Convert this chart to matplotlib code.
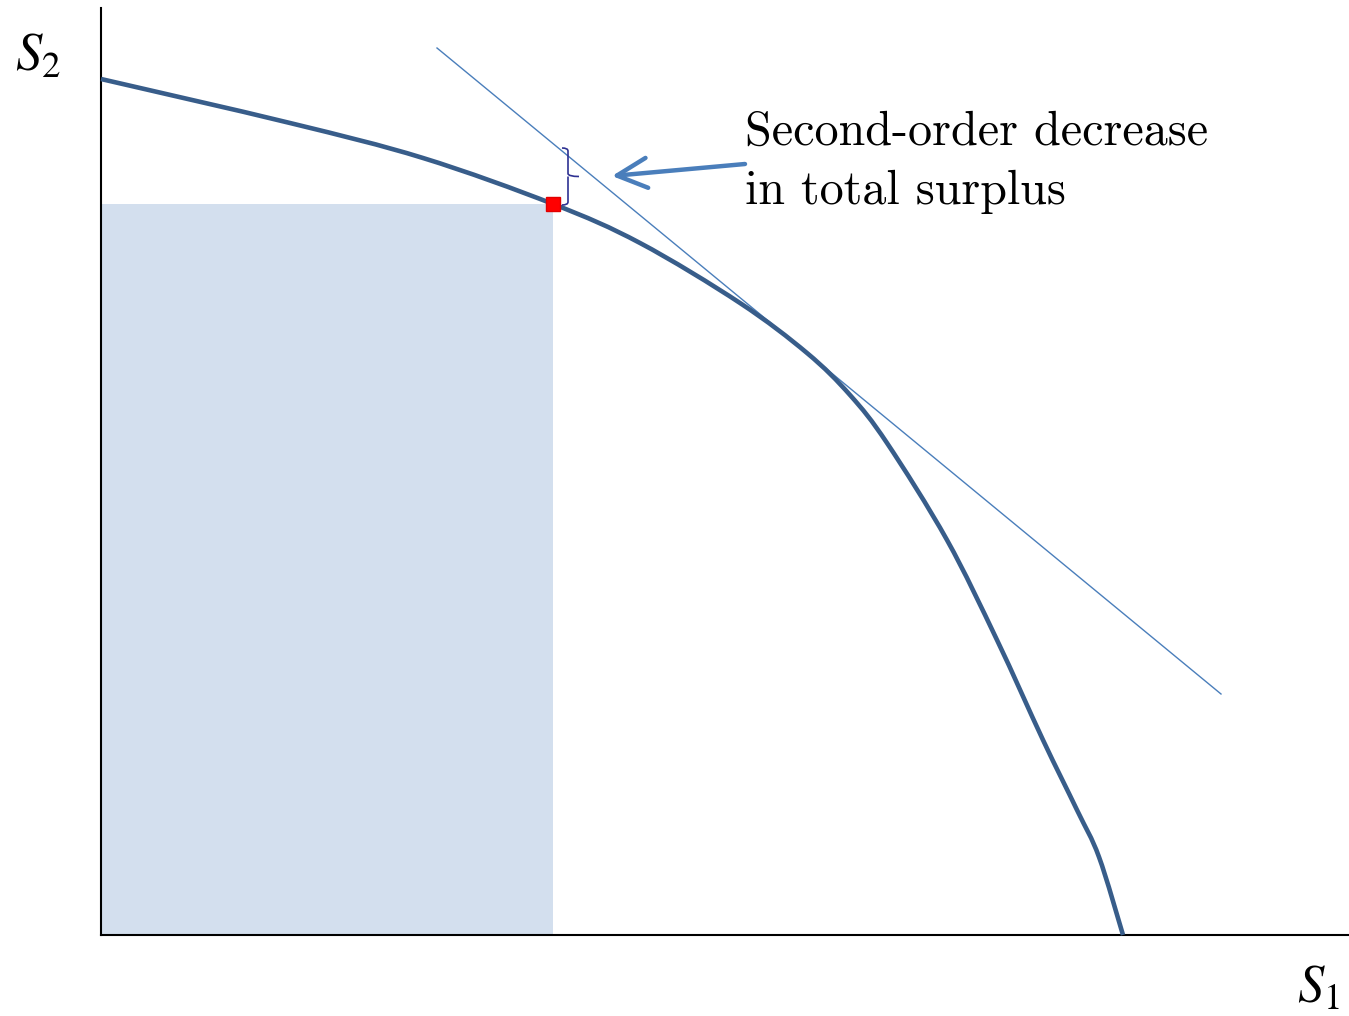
import matplotlib
matplotlib.use("Agg")
import matplotlib.pyplot as plt
from matplotlib.patches import Rectangle, FancyArrowPatch, PathPatch
from matplotlib.path import Path
import numpy as np

plt.rcParams["mathtext.fontset"] = "stix"

# Utility possibility frontier (S1, S2)
frontier_s1 = [0.00, 1.89, 3.22, 4.52, 5.39, 6.39, 7.06, 7.49, 7.86, 8.46, 8.96,
               9.42, 9.76, 9.98, 10.22]
frontier_s2 = [8.56, 8.12, 7.77, 7.31, 6.92, 6.32, 5.82, 5.40, 4.92, 3.95, 2.95,
               1.95, 1.25, 0.78, 0.00]

# Tangent line endpoints
tangent_s1 = [3.36, 11.20]
tangent_s2 = [8.87, 2.41]

# Allocation point on the frontier
point_s1 = 4.52
point_s2 = 7.31

annotation_text = "Second-order decrease\nin total surplus"


def smooth_path(xs, ys):
    """Cubic Bezier path passing through the given points (Catmull-Rom tangents)."""
    pts = np.column_stack([xs, ys]).astype(float)
    n = len(pts)
    verts = [tuple(pts[0])]
    codes = [Path.MOVETO]
    for i in range(n - 1):
        p0 = pts[i - 1] if i > 0 else pts[i]
        p1 = pts[i]
        p2 = pts[i + 1]
        p3 = pts[i + 2] if i + 2 < n else pts[i + 1]
        c1 = p1 + (p2 - p0) / 6.0
        c2 = p2 - (p3 - p1) / 6.0
        verts += [tuple(c1), tuple(c2), tuple(p2)]
        codes += [Path.CURVE4] * 3
    return Path(verts, codes)


fig = plt.figure(figsize=(13.49, 10.16), dpi=100)
ax = fig.add_axes([101 / 1349, 81 / 1016, 1248 / 1349, 927 / 1016])
ax.set_xlim(0, 12.48)
ax.set_ylim(0, 9.27)

# Shaded rectangle under the allocation point
ax.add_patch(Rectangle((0, 0), point_s1, point_s2, facecolor="#d3dfee",
                       edgecolor="none", zorder=1))

# Frontier and tangent
ax.add_patch(PathPatch(smooth_path(frontier_s1, frontier_s2), facecolor="none",
                       edgecolor="#385d8a", lw=3.3, capstyle="butt",
                       joinstyle="round", zorder=3, clip_on=False))
ax.plot(tangent_s1, tangent_s2, color="#4a7ebb", lw=1.0, zorder=2)

# Allocation point
ax.plot([point_s1], [point_s2], marker="s", ms=10, color="#ff0000",
        mec="#e00000", zorder=5)

# Curly brace between point and tangent
bx = point_s1 + 0.15
top = 7.87
bot = point_s2 - 0.01
mid = (top + bot) / 2
w = 0.06
tip = 0.11
verts = [
    (bx - w, top), (bx, top), (bx, top - 0.03),
    (bx, mid + 0.03), (bx, mid), (bx + tip, mid),
    (bx, mid), (bx, mid - 0.03),
    (bx, bot + 0.03), (bx, bot), (bx - w, bot),
]
codes = [Path.MOVETO, Path.CURVE3, Path.CURVE3,
         Path.LINETO, Path.CURVE3, Path.CURVE3,
         Path.MOVETO, Path.LINETO,
         Path.LINETO, Path.CURVE3, Path.CURVE3]
ax.add_patch(PathPatch(Path(verts, codes), facecolor="none",
                       edgecolor="#2e3192", lw=1.2, zorder=4))

# Arrow pointing to the brace
ax.add_patch(FancyArrowPatch((6.44, 7.71), (5.11, 7.59),
                             arrowstyle="->,head_length=0.9,head_width=0.45",
                             mutation_scale=24, color="#4a7ebb", lw=3.2,
                             capstyle="round", joinstyle="round",
                             shrinkA=0, shrinkB=0, zorder=4))

ax.text(6.44, 7.31, annotation_text, fontsize=34.6, family="cmr10",
        va="baseline", ha="left", linespacing=1.45)

# Axis labels
fig.text(38 / 1349, 1 - 56 / 1016, r"$S_2$", fontsize=38, ha="center", va="center")
fig.text(1318 / 1349, 1 - 988 / 1016, r"$S_1$", fontsize=38, ha="center", va="center")

for side in ["top", "right"]:
    ax.spines[side].set_visible(False)
for side in ["left", "bottom"]:
    ax.spines[side].set_linewidth(1.5)
    ax.spines[side].set_color("black")
ax.set_xticks([])
ax.set_yticks([])

fig.savefig("out.png", dpi=100, facecolor="white")
